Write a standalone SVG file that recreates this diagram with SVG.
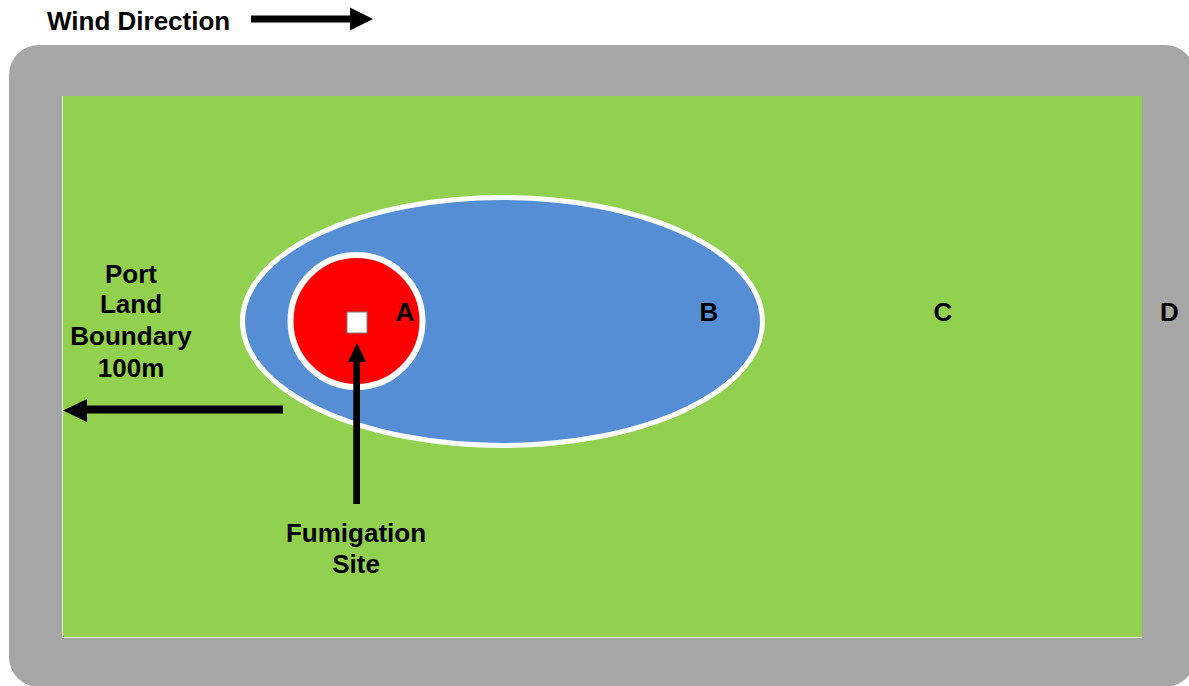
<svg xmlns="http://www.w3.org/2000/svg" width="1189" height="686" viewBox="0 0 1189 686">
<defs>
<style>
.t{font-family:"Liberation Sans",Arial,sans-serif;font-weight:bold;font-size:26px;fill:#000}
.m{text-anchor:middle}
.arr{fill:#000;stroke:none}
</style>
</defs>
<rect width="1189" height="686" fill="#fff"/>
<g id="port-boundary">
<rect x="9" y="45" width="1186" height="642" rx="30" ry="30" fill="#A6A6A6"/>
<rect x="63" y="96" width="1079" height="541" fill="#92D050"/>
<path d="M62.5,96 V637.5 H1142" fill="none" stroke="#E4EEDC" stroke-width="1"/>
</g>
<g id="zone-b">
<ellipse cx="502.5" cy="321.5" rx="260" ry="124" fill="#558ED5" stroke="#fff" stroke-width="5"/>
</g>
<g id="zone-a">
<circle cx="356.5" cy="321" r="66" fill="#FF0000" stroke="#fff" stroke-width="6"/>
</g>
<g id="fumigation-site">
<rect x="347" y="312" width="20" height="21" fill="#fff" stroke="#7F7F7F" stroke-width="1"/>
</g>
<g id="connectors">
<path class="arr" d="M251,15.5 H350 V7.5 L373,19 L350,30.5 V22.5 H251 Z"/>
<path class="arr" d="M283,405.5 H87 V399 L63,410.5 L87,422 V413.5 H283 Z"/>
<path class="arr" d="M353.3,504 V362 H348 L357,343 L366,362 H360 V504 Z"/>
</g>
<g id="labels">
<text class="t" x="47" y="30">Wind Direction</text>
<text class="t m" x="131" y="283">Port</text>
<text class="t m" x="131" y="313">Land</text>
<text class="t m" x="131" y="345">Boundary</text>
<text class="t m" x="131" y="377">100m</text>
<text class="t m" x="356" y="542">Fumigation</text>
<text class="t m" x="356" y="573">Site</text>
<text class="t m" x="405" y="321">A</text>
<text class="t m" x="709" y="321">B</text>
<text class="t m" x="943" y="321">C</text>
<text class="t m" x="1169.5" y="321">D</text>
</g>
</svg>
